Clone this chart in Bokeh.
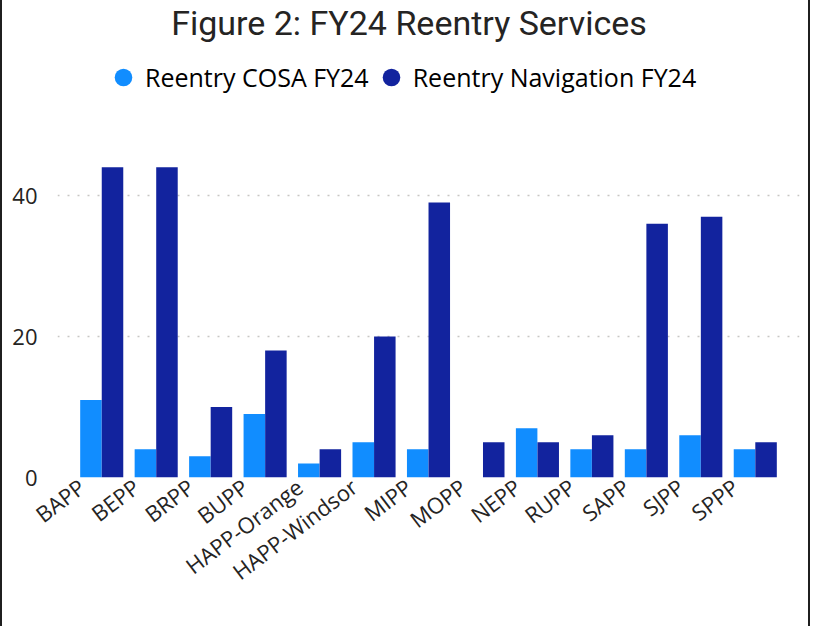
from bokeh.plotting import figure
from bokeh.models import (ColumnDataSource, Range1d, Legend, LegendItem,
                          Label, FixedTicker, LinearAxis)
from bokeh.transform import dodge
from bokeh.embed import file_html
from bokeh.resources import INLINE

categories = ["BAPP", "BEPP", "BRPP", "BUPP", "HAPP-Orange", "HAPP-Windsor", "MIPP",
              "MOPP", "NEPP", "RUPP", "SAPP", "SJPP", "SPPP"]
cosa_fy24 = [11, 4, 3, 9, 2, 5, 4, 0, 7, 4, 4, 6, 4]
navigation_fy24 = [44, 44, 10, 18, 4, 20, 39, 5, 5, 6, 36, 37, 5]
y_ticks = [0, 20, 40]

series_names = ["Reentry COSA FY24", "Reentry Navigation FY24"]
series_colors = ["#118DFF", "#12239E"]
title_text = "Figure 2: FY24 Reentry Services"

n = len(categories)
positions = [i + 0.5 for i in range(n)]   # centre of each category slot
source = ColumnDataSource(dict(cat=categories, pos=positions,
                               cosa=cosa_fy24, nav=navigation_fy24))

FONT = "Open Sans"
TXT = "#252423"

half = 0.312          # padding at each end of the category axis
label_pos = 0.13      # label anchor inside each slot (slot centre is 0.5)

p = figure(x_range=Range1d(-half, n + half),
           y_range=Range1d(0, 68.23),
           width=810, height=632,
           output_backend="svg", toolbar_location=None,
           x_axis_location=None,
           min_border_left=55, min_border_right=13,
           min_border_top=0, min_border_bottom=151)

# label range: value i lands on main-axis value i + label_pos
p.extra_x_ranges = {"lab": Range1d(-half - label_pos, n + half - label_pos)}

p.background_fill_color = "white"
p.border_fill_color = "white"
p.outline_line_color = None
p.styles = {"margin-top": "-6px",
            "border-left": "2px solid #1f1f1f", "border-right": "2px solid #1f1f1f",
            "border-top": "2px solid #1f1f1f"}

r1 = p.vbar(x=dodge("pos", -0.198, range=p.x_range), top="cosa", width=0.395,
            source=source, fill_color=series_colors[0], line_color=None)
r2 = p.vbar(x=dodge("pos", 0.198, range=p.x_range), top="nav", width=0.395,
            source=source, fill_color=series_colors[1], line_color=None)

# legend proxies (circle markers, placed below the visible range)
l1 = p.scatter(x=[positions[0]], y=[-100], marker="circle", fill_color=series_colors[0],
               line_color=None)
l2 = p.scatter(x=[positions[0]], y=[-100], marker="circle", fill_color=series_colors[1],
               line_color=None)

legend = Legend(items=[LegendItem(label=series_names[0], renderers=[l1], index=0),
                       LegendItem(label=series_names[1], renderers=[l2], index=0)],
                orientation="horizontal", location=(44, 376),
                glyph_width=44, glyph_height=48, label_standoff=0, spacing=0,
                label_text_font=FONT, label_text_font_size="25px",
                label_text_color="#000000", border_line_color=None,
                background_fill_alpha=0, padding=0, margin=0)
p.add_layout(legend, "center")

p.add_layout(Label(x=n / 2 - 0.358, y=64.54, text=title_text, text_align="center",
                   text_baseline="middle", text_font="Roboto", text_font_size="34px",
                   text_color=TXT))

# category axis (labels placed through an aligned numeric range)
xaxis = LinearAxis(x_range_name="lab",
                   ticker=FixedTicker(ticks=list(range(n))),
                   major_label_overrides={i: c for i, c in enumerate(categories)})
xaxis.axis_line_color = None
xaxis.major_tick_line_color = None
xaxis.minor_tick_line_color = None
xaxis.major_label_text_font = FONT
xaxis.major_label_text_font_size = "22px"
xaxis.major_label_text_color = TXT
xaxis.major_label_orientation = 0.65
xaxis.major_label_standoff = 0
p.add_layout(xaxis, "below")

p.yaxis.ticker = FixedTicker(ticks=y_ticks)
p.yaxis.axis_line_color = None
p.yaxis.major_tick_line_color = None
p.yaxis.minor_tick_line_color = None
p.yaxis.major_label_text_font = FONT
p.yaxis.major_label_text_font_size = "22px"
p.yaxis.major_label_text_color = TXT
p.yaxis.major_label_standoff = 14

p.xgrid.grid_line_color = None
p.ygrid.ticker = FixedTicker(ticks=y_ticks)
p.ygrid.grid_line_color = "#C8C6C4"
p.ygrid.grid_line_dash = "2 8"
p.ygrid.grid_line_width = 1.5

open("out.html", "w").write(file_html(p, INLINE))
